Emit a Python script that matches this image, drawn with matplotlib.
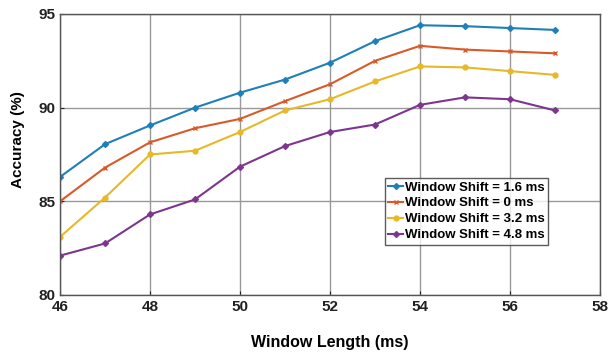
import matplotlib
matplotlib.use("Agg")
import matplotlib.pyplot as plt

window_length = [46, 47, 48, 49, 50, 51, 52, 53, 54, 55, 56, 57]
shift_1_6 = [86.3, 88.05, 89.05, 90.0, 90.8, 91.5, 92.4, 93.55, 94.4, 94.35, 94.25, 94.15]
shift_0 = [85.0, 86.8, 88.15, 88.9, 89.4, 90.35, 91.25, 92.5, 93.3, 93.1, 93.0, 92.9]
shift_3_2 = [83.1, 85.2, 87.5, 87.7, 88.7, 89.85, 90.45, 91.4, 92.2, 92.15, 91.95, 91.75]
shift_4_8 = [82.1, 82.75, 84.3, 85.1, 86.85, 87.95, 88.7, 89.1, 90.15, 90.55, 90.45, 89.85]
labels = ["Window Shift = 1.6 ms", "Window Shift = 0 ms", "Window Shift = 3.2 ms", "Window Shift = 4.8 ms"]

plt.rcParams['font.family'] = ['Liberation Sans', 'DejaVu Sans']
fig = plt.figure(figsize=(6.09, 3.54), dpi=100)
ax = fig.add_axes([60/609, 1-295/354, 540/609, 281/354])

colors = ['#1f7fb8', '#d85a28', '#e8b828', '#7e358e']
markers = ['D', 'x', 'o', 'D']
sizes = [3, 3.5, 3.5, 3]
for ys, c, m, s, lab in zip([shift_1_6, shift_0, shift_3_2, shift_4_8], colors, markers, sizes, labels):
    ax.plot(window_length, ys, color=c, marker=m, markersize=s, linewidth=1.5, label=lab,
            markeredgewidth=1)

ax.set_xlim(46, 58)
ax.set_ylim(80, 95)
ax.set_xticks([46, 48, 50, 52, 54, 56, 58])
ax.set_yticks([80, 85, 90, 95])
ax.grid(True, color='#999999', linewidth=1)
ax.set_axisbelow(True)
for sp in ax.spines.values():
    sp.set_color('#555555')
    sp.set_linewidth(1)
ax.tick_params(direction='in', length=3, labelsize=11, colors='#222222', width=0.8)
for t in ax.get_xticklabels() + ax.get_yticklabels():
    t.set_fontweight('bold')
ax.set_xlabel('Window Length (ms)', fontsize=11.5, fontweight='bold')
ax.xaxis.set_label_coords(0.5, -(342-295)/281, transform=ax.transAxes)
ax.xaxis.label.set_va('center')
ax.set_ylabel('Accuracy (%)', fontsize=11, fontweight='bold')
ax.yaxis.set_label_coords(-(60-18)/540, (295-140)/281, transform=ax.transAxes)
ax.yaxis.label.set_va('center')

leg = ax.legend(loc='upper left', bbox_to_anchor=((385-60)/540, (295-178)/281),
                frameon=True, fancybox=False, edgecolor='#333333',
                prop={'weight': 'bold', 'size': 9.5}, handlelength=1.1, handletextpad=0.15,
                borderpad=0.25, labelspacing=0.28, borderaxespad=0)
leg.get_frame().set_linewidth(1)

fig.savefig('out.png', dpi=100)
